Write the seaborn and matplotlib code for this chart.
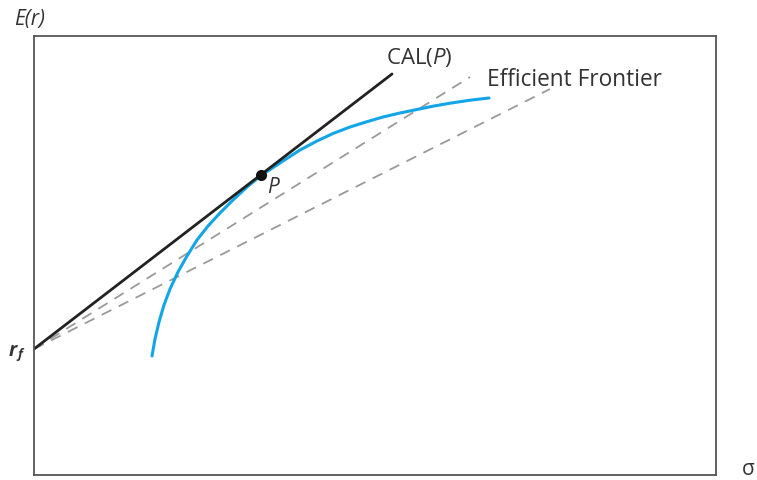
import seaborn as sns
import matplotlib.pyplot as plt
import pandas as pd

sns.set_style('white')
plt.rcParams['font.family'] = ['Open Sans', 'DejaVu Sans']
plt.rcParams['mathtext.fontset'] = 'custom'
plt.rcParams['mathtext.rm'] = 'Open Sans'
plt.rcParams['mathtext.it'] = 'Open Sans:italic'

# values (axis units ~ pixels of the original plot area)
rf = 126
p_sigma, p_ret = 227, 300
cal_sigma = [0, 358]
cal_ret = [126, 401]
dash1_sigma = [0, 436]
dash1_ret = [126, 398]
dash2_sigma = [0, 516]
dash2_ret = [126, 386]
frontier_sigma = [118, 121, 125, 130, 136, 144, 153, 163, 174, 186, 199, 213, 227,
                  249, 266, 283, 299, 316, 332, 349, 366, 383, 399, 416, 436, 455]
frontier_ret = [119, 136, 153, 170, 186, 203, 219, 235, 249, 262, 275, 288, 299.5,
                314, 325, 334, 341.5, 348, 353, 358, 362, 365.5, 368.8, 371.8, 374.8, 377]

fig = plt.figure(figsize=(7.57, 4.81), dpi=100)
ax = fig.add_axes([34 / 757, 5 / 481, 682 / 757, 439 / 481])

frontier = pd.DataFrame({'sigma': frontier_sigma, 'ret': frontier_ret})
sns.lineplot(x=dash1_sigma, y=dash1_ret, ax=ax, color='#9a9a9a', lw=1.3, linestyle=(0, (6, 4.5)))
sns.lineplot(x=dash2_sigma, y=dash2_ret, ax=ax, color='#9a9a9a', lw=1.3, linestyle=(0, (6, 4.5)))
sns.lineplot(data=frontier, x='sigma', y='ret', sort=False, ax=ax, color='#12a5e8', lw=2.2)
sns.lineplot(x=cal_sigma, y=cal_ret, ax=ax, color='#222222', lw=2.0)
ax.plot([p_sigma], [p_ret], 'o', color='#111111', ms=7)

ax.set_xlim(0, 682)
ax.set_ylim(0, 439)
ax.set_xticks([])
ax.set_yticks([])
ax.set_xlabel('')
ax.set_ylabel('')
for s in ax.spines.values():
    s.set_color('#555555')
    s.set_linewidth(1.3)

tc = '#333333'
ax.text(p_sigma + 6, p_ret - 1, 'P', style='italic', fontsize=15, color=tc, va='top', ha='left')
ax.text(386 - 34, 476 - 58, r'CAL($\mathit{P}$)', fontsize=16, color=tc, va='center', ha='left')
ax.text(487 - 34, 476 - 80, 'Efficient Frontier', fontsize=16.3, color=tc, va='center', ha='left')

fig.text(14 / 757, 1 - 19 / 481, 'E(r)', style='italic', fontsize=15, color=tc, va='center', ha='left')
fig.text(9 / 757, 1 - 351 / 481, 'r', style='italic', fontweight='bold',
         fontsize=14, color=tc, va='center', ha='left')
fig.text(17 / 757, 1 - 355 / 481, 'f', style='italic', fontweight='bold', fontsize=9.5, color=tc, va='center', ha='left')
fig.text(748 / 757, 1 - 470 / 481, 'σ', fontsize=15, color=tc, va='center', ha='center')

fig.savefig('out.png', dpi=100)
